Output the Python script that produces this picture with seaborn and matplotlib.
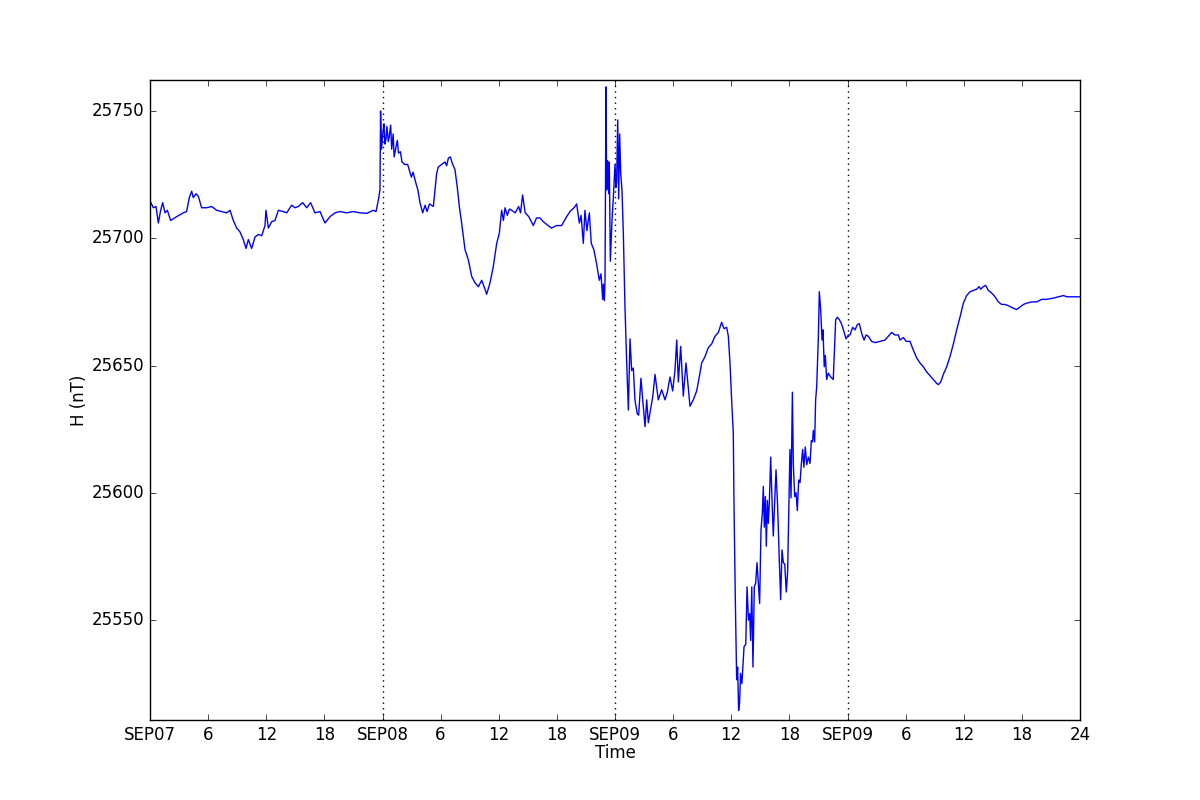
import matplotlib
matplotlib.use("Agg")
import matplotlib.pyplot as plt
import numpy as np
import pandas as pd
import seaborn as sns

# hours since SEP07 00:00 and H component (nT)
day1_hours = [0.0, 0.10, 0.34, 0.62, 0.86, 1.10, 1.31, 1.55, 1.79, 2.13, 2.75, 3.44, 3.78, 4.06, 4.30, 4.47,
	4.75, 4.99, 5.33, 5.85, 6.37, 6.88, 7.40, 7.91, 8.26, 8.60, 8.95, 9.29, 9.63, 9.91, 10.15, 10.49, 10.84,
	11.18, 11.53, 11.87, 11.97, 12.22, 12.56, 12.90, 13.25, 13.76, 14.11, 14.62, 14.97, 15.31, 15.76, 16.17,
	16.58, 17.03, 17.55, 18.06, 18.58, 19.10, 19.61, 20.30, 20.99, 21.68, 22.37, 23.05, 23.33, 23.57, 23.74]
day1_nt = [25714, 25714, 25712, 25712.5, 25706, 25711, 25714, 25710, 25711, 25707, 25708.5, 25710, 25710.5,
	25716, 25718.5, 25716, 25717.5, 25716.5, 25712, 25712, 25712.5, 25711, 25710.5, 25710, 25711, 25707, 25704,
	25702.5, 25699.5, 25696, 25699.5, 25696, 25700.5, 25701.5, 25701, 25705, 25711, 25704, 25706.5, 25707,
	25711, 25710.5, 25710, 25713, 25712, 25712.5, 25714, 25712, 25714, 25710, 25710.5, 25706, 25708.5, 25710,
	25710.5, 25710, 25710.5, 25710, 25709.8, 25711, 25710.5, 25715, 25719]

day2_hours = [23.80, 23.90, 24.05, 24.15, 24.25, 24.36, 24.45, 24.60, 24.70, 24.84, 24.95, 25.10, 25.20, 25.53,
	25.65, 25.85, 26.01, 26.30, 26.60, 26.98, 27.15, 27.46, 27.65, 27.87, 28.15, 28.40, 28.60, 28.85, 29.25,
	29.59, 29.76, 30.10, 30.45, 30.62, 30.80, 31.00, 31.20, 31.48, 31.72, 31.93, 32.17, 32.52, 32.86, 33.21,
	33.55, 33.90, 34.24, 34.58, 34.75, 35.10, 35.44, 35.79, 36.06, 36.30, 36.48, 36.65, 36.88, 37.10, 37.33,
	37.70, 38.05, 38.25, 38.46, 38.73, 39.10, 39.57, 39.90, 40.25, 40.60, 41.10, 41.46, 41.95, 42.49, 43.01,
	43.35, 43.77, 44.04, 44.32, 44.50, 44.73, 44.90, 45.10, 45.35, 45.55, 45.82, 46.10, 46.38, 46.55, 46.73,
	46.80, 46.90, 46.97, 47.07, 47.14, 47.24, 47.35, 47.41, 47.52, 47.69, 47.83, 48.00]
day2_nt = [25750, 25735, 25742, 25745, 25737, 25739, 25744, 25738, 25740, 25744.5, 25735, 25741, 25732,
	25738.5, 25733.5, 25734, 25730, 25729, 25729, 25724, 25726, 25721.5, 25719, 25714, 25710, 25713, 25710.5,
	25713.5, 25712.5, 25725.5, 25728, 25729, 25730, 25728.5, 25731.5, 25732, 25729.5, 25727, 25720, 25712.5,
	25706, 25695.5, 25691.5, 25685, 25682.5, 25681, 25683.5, 25680, 25678, 25682.5, 25689, 25698, 25702,
	25711, 25707, 25712, 25709, 25711.5, 25711, 25710, 25712.5, 25710, 25717, 25710, 25708.5, 25705, 25708,
	25708, 25706.5, 25705, 25704, 25705, 25705, 25708.5, 25710.5, 25712, 25713.5, 25706, 25709, 25698, 25711,
	25703, 25710, 25698, 25695.5, 25690, 25683.5, 25686, 25676, 25682, 25675.5, 25683.5, 25759.5, 25719,
	25730.5, 25717.5, 25730, 25691, 25707, 25716, 25729]

day3_hours = [48.10, 48.17, 48.28, 48.38, 48.48, 48.59, 48.72, 48.86, 49.03, 49.20, 49.38, 49.55, 49.72, 49.89,
	50.06, 50.30, 50.44, 50.68, 50.86, 51.10, 51.27, 51.44, 51.68, 51.89, 52.13, 52.47, 52.82, 53.16, 53.40,
	53.68, 53.95, 54.19, 54.37, 54.54, 54.78, 55.05, 55.33, 55.57, 55.74, 56.08, 56.43, 56.70, 56.95, 57.29,
	57.63, 57.98, 58.32, 58.67, 59.01, 59.25, 59.53, 59.70, 59.87, 60.04, 60.21, 60.28, 60.42, 60.56, 60.66,
	60.76, 60.86, 60.96, 61.10, 61.32, 61.50, 61.63, 61.78, 61.90, 62.00, 62.12, 62.24, 62.38, 62.52, 62.66,
	62.80, 62.93, 63.07, 63.21, 63.31, 63.41, 63.52, 63.62, 63.73, 63.83, 63.93, 64.07, 64.20, 64.34, 64.48,
	64.62, 64.79, 64.96, 65.10, 65.24, 65.38, 65.52, 65.68, 65.82, 65.96, 66.06, 66.17, 66.31, 66.41, 66.55,
	66.69, 66.82, 66.96, 67.10, 67.23, 67.37, 67.50, 67.64, 67.79, 67.96, 68.13, 68.27, 68.40, 68.47, 68.61,
	68.71, 68.82, 68.99, 69.09, 69.23, 69.37, 69.47, 69.60, 69.71, 69.85, 70.02, 70.26, 70.53, 70.64, 70.78,
	70.95, 71.16, 71.37, 71.58, 71.85]
day3_nt = [25720, 25722, 25746.5, 25715.5, 25741, 25725.5, 25719, 25702, 25673, 25652, 25632.5, 25660.5, 25648,
	25649, 25636.5, 25631, 25630.5, 25645, 25636.5, 25626, 25636.5, 25627.5, 25633, 25637.5, 25646.5, 25636.5,
	25640.5, 25636.5, 25639.5, 25645.5, 25640, 25648, 25660, 25643.5, 25657.5, 25638, 25651, 25641, 25634,
	25636.5, 25640, 25645.5, 25651, 25653.5, 25657, 25658.5, 25661.5, 25663, 25667, 25664.5, 25665, 25661.5,
	25651, 25636.5, 25623.5, 25597, 25558, 25526.5, 25531.5, 25514.5, 25517.5, 25529, 25525, 25539.5, 25540.5,
	25563, 25550, 25552.5, 25542, 25563, 25531.5, 25563, 25564.5, 25572.5, 25564, 25556.5, 25585.5, 25592,
	25602.5, 25586.5, 25598.5, 25579, 25597, 25588, 25596, 25614, 25598, 25583, 25596, 25609, 25594.5,
	25573.5, 25558, 25577.5, 25572.5, 25572, 25561, 25569, 25597, 25617, 25598, 25639.5, 25611, 25598.5,
	25600, 25593, 25605, 25604, 25611, 25617, 25610, 25618, 25611, 25614, 25611.5, 25620.5, 25620, 25624.5,
	25620, 25636.5, 25641.7, 25661, 25679, 25672, 25660, 25664, 25649.5, 25654, 25644.5, 25647, 25645.5,
	25644.5, 25655, 25668, 25669, 25668, 25666.5, 25664, 25660.5]

day4_hours = [72.09, 72.26, 72.53, 72.77, 73.01, 73.22, 73.47, 73.71, 73.92, 74.15, 74.49, 74.84, 75.36, 75.87,
	76.32, 76.56, 76.90, 77.25, 77.42, 77.77, 78.05, 78.45, 78.80, 79.14, 79.48, 79.83, 80.17, 80.52, 80.86,
	81.20, 81.38, 81.62, 81.89, 82.24, 82.58, 82.93, 83.27, 83.61, 83.96, 84.30, 84.65, 84.99, 85.34, 85.58,
	85.75, 86.02, 86.26, 86.54, 86.88, 87.23, 87.57, 87.91, 88.26, 88.60, 89.12, 89.47, 89.81, 90.16, 90.50,
	91.02, 91.54, 92.05, 92.57, 93.26, 93.78, 94.29, 94.64, 95.15, 95.84, 96.00]
day4_nt = [25662, 25662, 25665, 25664, 25666, 25666.5, 25662.5, 25660, 25662, 25661.5, 25659.5, 25659, 25659.5,
	25660, 25662, 25663, 25662, 25662, 25660, 25661, 25659.5, 25659.5, 25656, 25653, 25651, 25649.5, 25647.5,
	25646, 25644.5, 25643, 25642.5, 25643.5, 25646.5, 25649.5, 25653.5, 25658.5, 25664, 25669, 25674.5,
	25677.5, 25679, 25679.5, 25680, 25681, 25680, 25681, 25681.5, 25679.5, 25678.5, 25677, 25675, 25674,
	25674, 25673.5, 25672.5, 25672, 25673, 25674, 25674.5, 25675, 25675, 25676, 25676, 25676.5, 25677,
	25677.5, 25677, 25677, 25677, 25677]

day_marks = [24, 48, 72]
tick_hours = list(range(0, 97, 6))
tick_labels = ['SEP07', '6', '12', '18', 'SEP08', '6', '12', '18', 'SEP09', '6', '12', '18',
	'SEP09', '6', '12', '18', '24']


def main():
	plt.style.use('classic')
	plt.rcParams['figure.facecolor'] = 'white'
	plt.rcParams['savefig.facecolor'] = 'white'
	plt.rcParams['font.family'] = ['DejaVu Sans']

	df = pd.DataFrame({
		'hour': day1_hours + day2_hours + day3_hours + day4_hours,
		'H': day1_nt + day2_nt + day3_nt + day4_nt,
	})

	fig = plt.figure(figsize=(12, 8), dpi=100)
	ax = fig.add_subplot(111)
	sns.lineplot(x='hour', y='H', data=df, ax=ax, color='b', linewidth=1.0, estimator=None)
	for d in day_marks:
		ax.axvline(d, color='k', linestyle=':', linewidth=1.0)

	ax.set_xlim(0, 96)
	ax.set_ylim(25510.7, 25762.2)
	ax.set_xticks(tick_hours)
	ax.set_xticklabels(tick_labels)
	ax.set_yticks([25550, 25600, 25650, 25700, 25750])
	ax.ticklabel_format(axis='y', useOffset=False, style='plain')
	ax.set_xlabel('Time', fontsize=12, labelpad=0)
	ax.set_ylabel('H (nT)', fontsize=12, labelpad=3)

	fig.savefig('out.png', dpi=100)


if __name__ == "__main__":
	main()
